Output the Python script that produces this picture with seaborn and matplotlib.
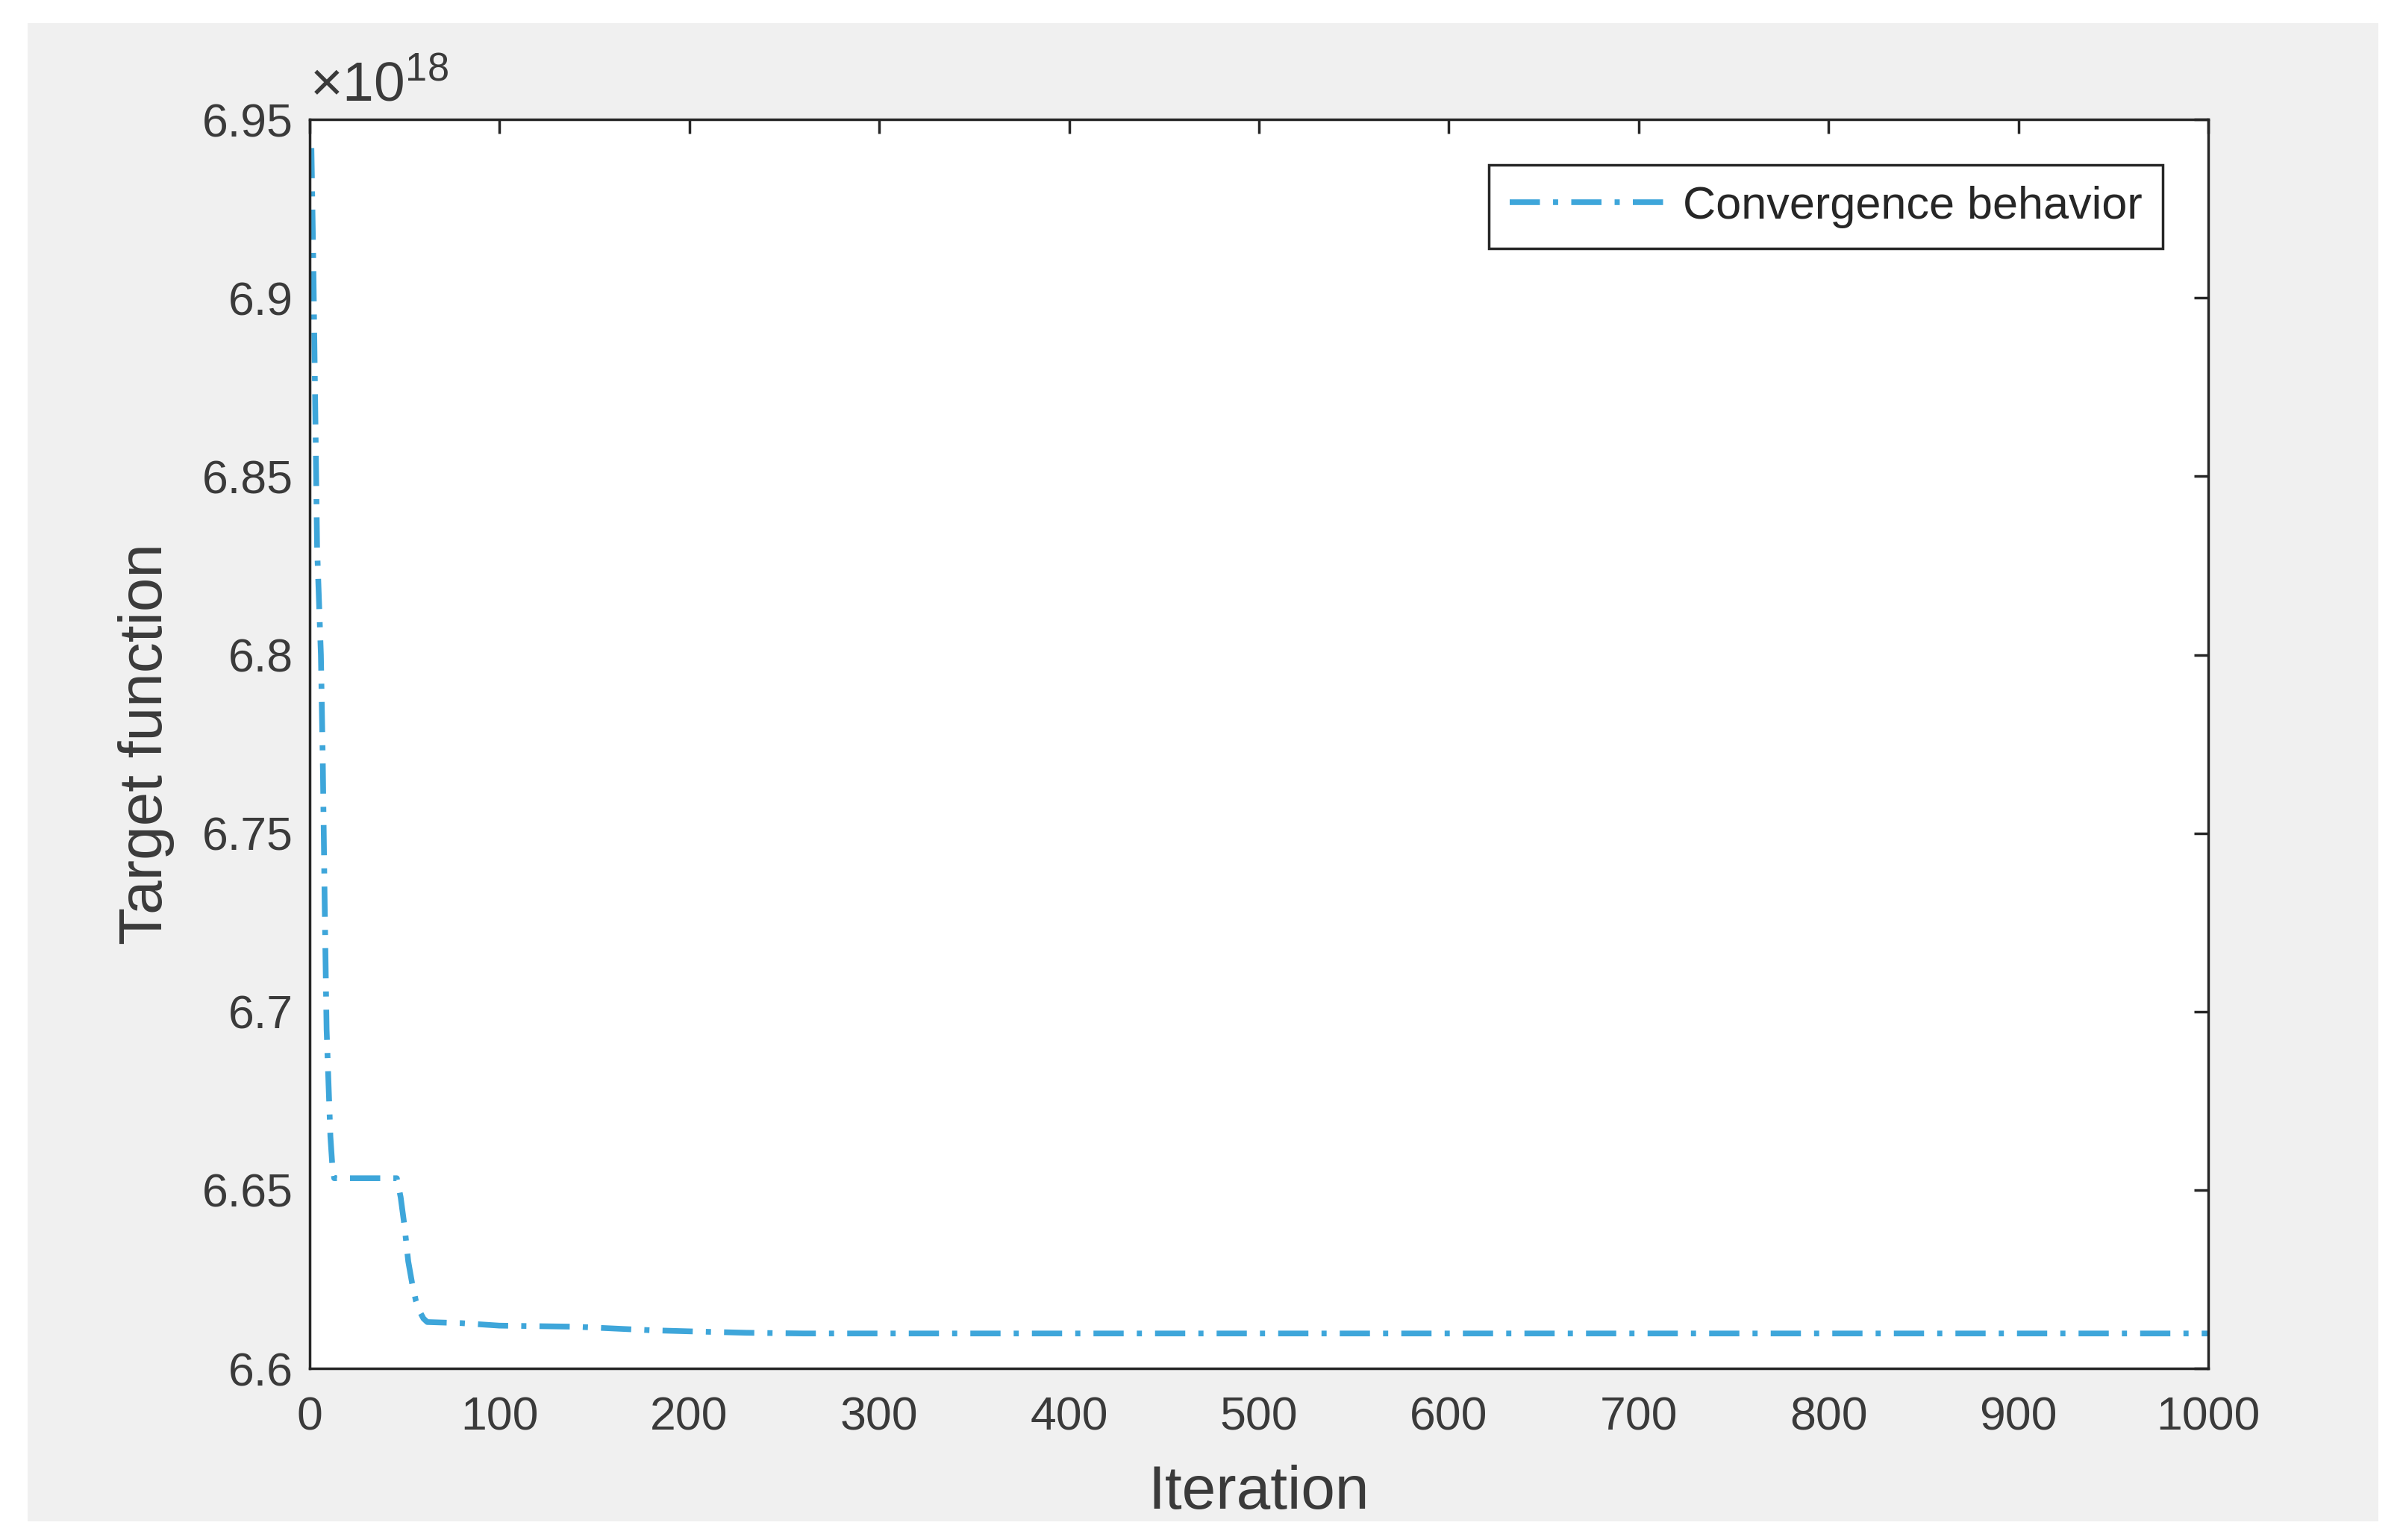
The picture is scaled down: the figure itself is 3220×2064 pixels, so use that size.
import matplotlib
matplotlib.use("Agg")
import matplotlib.pyplot as plt
import seaborn as sns
import pandas as pd
from matplotlib.patches import Rectangle

# values (target function in units of 1e18)
iteration = [1, 2, 3, 4, 5, 6, 7, 8, 9, 10, 11, 12, 13,
             46, 48, 50, 52, 54, 56, 58, 60, 62,
             80, 100, 140, 160, 180, 200, 230, 260, 1000]
target = [6.942, 6.91, 6.87, 6.83, 6.815, 6.80, 6.77, 6.73, 6.695, 6.68, 6.665, 6.657, 6.6533,
          6.6533, 6.648, 6.640, 6.630, 6.624, 6.619, 6.616, 6.614, 6.6130,
          6.6127, 6.6120, 6.6117, 6.6112, 6.6107, 6.6104, 6.6100, 6.6098, 6.6098]
exponent = 18
xticks = [0, 100, 200, 300, 400, 500, 600, 700, 800, 900, 1000]
yticks = [6.6, 6.65, 6.7, 6.75, 6.8, 6.85, 6.9, 6.95]
yticklabels = ["6.6", "6.65", "6.7", "6.75", "6.8", "6.85", "6.9", "6.95"]

df = pd.DataFrame({"Iteration": iteration, "Target": target})

sns.set_style("white")
plt.rcParams["font.family"] = ["Liberation Sans", "DejaVu Sans"]
plt.rcParams["mathtext.fontset"] = "custom"
plt.rcParams["mathtext.rm"] = "Liberation Sans"

txt = "#3a3a3a"
fig = plt.figure(figsize=(32.2, 20.64), dpi=100, facecolor="white")
# matlab-style grey figure area
fig.patches.append(Rectangle((0.0115, 0.012), 0.9783, 0.973, transform=fig.transFigure,
                             facecolor="#f0f0f0", edgecolor="none", zorder=-1))
ax = fig.add_axes([0.1288, 0.1114, 0.7902, 0.811])
ax.set_facecolor("white")

sns.lineplot(data=df, x="Iteration", y="Target", ax=ax, color="#3ea6da",
             linewidth=5.5, label="Convergence behavior")
ax.lines[0].set_dashes((5.3, 2.3, 0.9, 2.3))
ax.lines[0].set_dash_capstyle("butt")

ax.set_xlim(0, 1000)
ax.set_ylim(6.6, 6.95)
ax.set_xticks(xticks)
ax.set_yticks(yticks)
ax.set_yticklabels(yticklabels)
ax.tick_params(direction="in", length=14, width=2.5, colors="#262626",
               labelcolor=txt, labelsize=45, top=True, right=True, pad=16)
ax.tick_params(axis="x", pad=26)
for s in ax.spines.values():
    s.set_visible(True)
    s.set_color("#262626")
    s.set_linewidth(2.5)

ax.set_xlabel("Iteration", fontsize=59, color=txt, labelpad=24)
ax.set_ylabel("Target function", fontsize=59, color=txt, labelpad=26)
ax.text(0.0, 1.006, r"$\times\mathregular{10^{%d}}$" % exponent, transform=ax.transAxes,
        ha="left", va="bottom", fontsize=54, color=txt)

leg = ax.legend(loc="upper right", fontsize=44, handlelength=3.4, handletextpad=0.4,
                borderaxespad=1.0, borderpad=0.45, fancybox=False, framealpha=1)
leg.get_frame().set_edgecolor("#262626")
leg.get_frame().set_linewidth(2.5)
for t in leg.get_texts():
    t.set_color("#262626")

fig.savefig("out.png", dpi=100, facecolor=fig.get_facecolor())
